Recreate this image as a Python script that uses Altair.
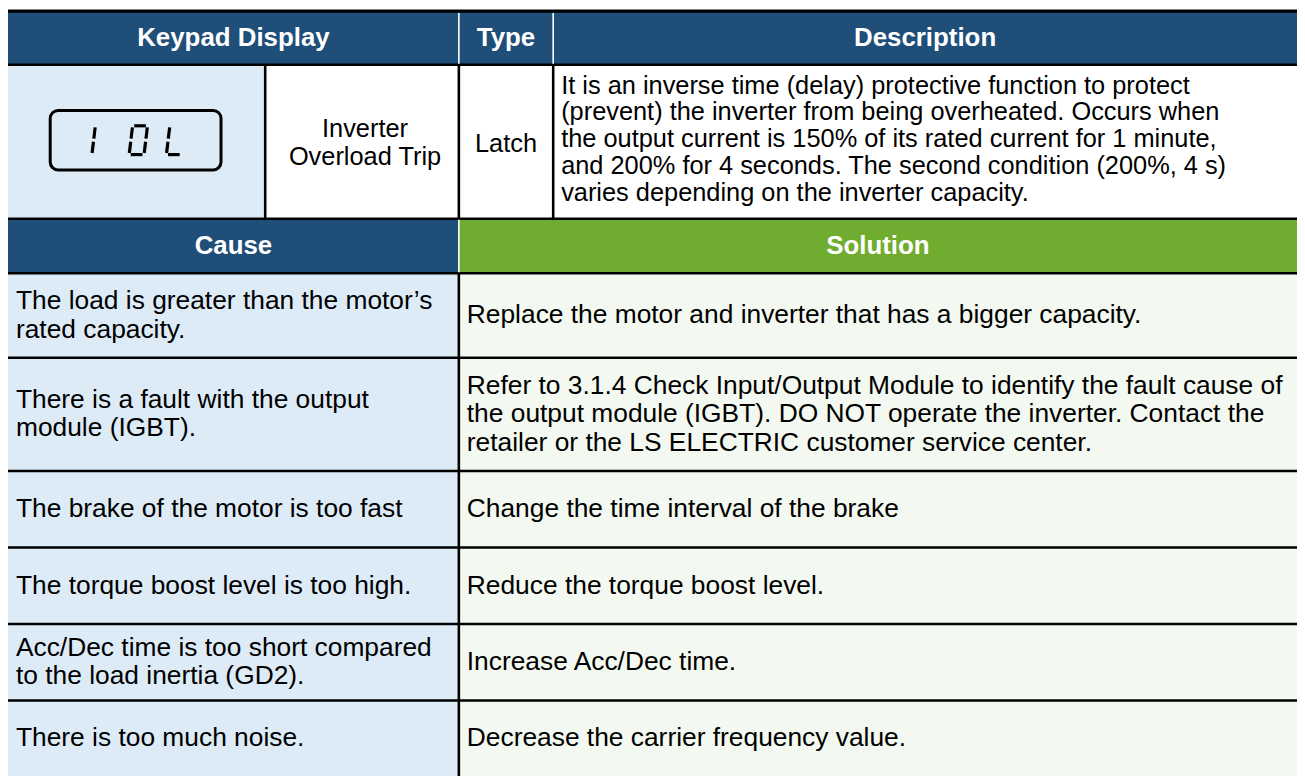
import altair as alt
import pandas as pd

# ---------------- content ----------------
header_top = ["Keypad Display", "Type", "Description"]
header_mid = ["Cause", "Solution"]
keypad_code = ["I", "O", "L"]
trip_name = ["Inverter", "Overload Trip"]
trip_type = ["Latch"]
description = [
    "It is an inverse time (delay) protective function to protect",
    "(prevent) the inverter from being overheated. Occurs when",
    "the output current is 150% of its rated current for 1 minute,",
    "and 200% for 4 seconds. The second condition (200%, 4 s)",
    "varies depending on the inverter capacity.",
]
causes = [
    ["The load is greater than the motor\u2019s", "rated capacity."],
    ["There is a fault with the output", "module (IGBT)."],
    ["The brake of the motor is too fast"],
    ["The torque boost level is too high."],
    ["Acc/Dec time is too short compared", "to the load inertia (GD2)."],
    ["There is too much noise."],
]
solutions = [
    ["Replace the motor and inverter that has a bigger capacity."],
    ["Refer to 3.1.4 Check Input/Output Module to identify the fault cause of",
     "the output module (IGBT). DO NOT operate the inverter. Contact the",
     "retailer or the LS ELECTRIC customer service center."],
    ["Change the time interval of the brake"],
    ["Reduce the torque boost level."],
    ["Increase Acc/Dec time."],
    ["Decrease the carrier frequency value."],
]

# ---------------- layout (table grid, reference pixels) ----------------
X_LEFT, X_RIGHT = 6, 1304
COL_KEY, COL_SPLIT, COL_DESC = 265, 460, 555
Y_TOP, Y_HEAD1, Y_ROW2, Y_HEAD2 = 8, 62, 217, 272
ROW_EDGES = [272, 357, 471, 548, 625, 702, 778]
PAD = 8

DARK_BLUE = "#1F4E79"
GREEN = "#6FAC30"
LIGHT_BLUE = "#DDEBF7"
LIGHT_GREEN = "#F3F8F0"
FONT = "Liberation Sans"

# ---------------- cell fills ----------------
rects = [
    (X_LEFT, X_RIGHT, Y_TOP, Y_HEAD1, DARK_BLUE),
    (X_LEFT, COL_KEY, Y_HEAD1, Y_ROW2, LIGHT_BLUE),
    (COL_KEY, X_RIGHT, Y_HEAD1, Y_ROW2, "#FFFFFF"),
    (X_LEFT, COL_SPLIT, Y_ROW2, Y_HEAD2, DARK_BLUE),
    (COL_SPLIT, X_RIGHT, Y_ROW2, Y_HEAD2, GREEN),
]
for top, bottom in zip(ROW_EDGES[:-1], ROW_EDGES[1:]):
    rects.append((X_LEFT, COL_SPLIT, top, bottom, LIGHT_BLUE))
    rects.append((COL_SPLIT, X_RIGHT, top, bottom, LIGHT_GREEN))
rect_df = pd.DataFrame(rects, columns=["x", "x2", "y", "y2", "fill"])

# ---------------- borders ----------------
rules = [(X_LEFT, X_RIGHT, Y_TOP, Y_TOP, "#000000", 3.2)]
for yy in [Y_HEAD1, Y_ROW2, Y_HEAD2] + ROW_EDGES[1:-1]:
    rules.append((X_LEFT, X_RIGHT, yy, yy, "#000000", 2.6))
for xx in [COL_KEY, COL_SPLIT, COL_DESC]:
    rules.append((xx, xx, Y_HEAD1, Y_ROW2, "#000000", 2.6))
rules.append((COL_SPLIT, COL_SPLIT, Y_HEAD2, ROW_EDGES[-1], "#000000", 2.6))
for xx in [COL_SPLIT, COL_DESC]:
    rules.append((xx, xx, Y_TOP + 2, Y_HEAD1 - 1, "#FFFFFF", 1.6))
rules.append((COL_SPLIT, COL_SPLIT, Y_ROW2 + 1, Y_HEAD2 - 1, "#FFFFFF", 1.6))
rule_df = pd.DataFrame(rules, columns=["x", "x2", "y", "y2", "color", "w"])

# ---------------- keypad display (seven segment) ----------------
box_df = pd.DataFrame({"x": [48.5], "x2": [220.5], "y": [108], "y2": [168]})
SEGMENT_TEMPLATE = {
    "a": (0, 0, 1, 0), "b": (1, 0, 1, 1), "c": (1, 1, 1, 2),
    "d": (0, 2, 1, 2), "e": (0, 1, 0, 2), "f": (0, 0, 0, 1), "g": (0, 1, 1, 1),
}
CHAR_SEGMENTS = {"I": "ef", "O": "abcdef", "L": "def"}
DIGIT_X0, DIGIT_PITCH, DIGIT_W, DIGIT_TOP, DIGIT_H, SLANT, GAP = 90.5, 37.5, 15, 123.5, 29, 0.12, 1.6


def seg_point(left, u, v):
    return (left + u * DIGIT_W + SLANT * (2 - v) * DIGIT_H / 2, DIGIT_TOP + v * DIGIT_H / 2)


segs = []
for i, ch in enumerate(keypad_code):
    left = DIGIT_X0 + i * DIGIT_PITCH
    for s in CHAR_SEGMENTS[ch]:
        u1, v1, u2, v2 = SEGMENT_TEMPLATE[s]
        x1, y1 = seg_point(left, u1, v1)
        x2, y2 = seg_point(left, u2, v2)
        dx, dy = x2 - x1, y2 - y1
        ln = (dx * dx + dy * dy) ** 0.5
        segs.append((x1 + dx * GAP / ln, x2 - dx * GAP / ln, y1 + dy * GAP / ln, y2 - dy * GAP / ln))
seg_df = pd.DataFrame(segs, columns=["x", "x2", "y", "y2"])


# ---------------- text (one row per printed line) ----------------
def block(lines, x, center, line_height):
    n = len(lines)
    return [(t, x, center + (i - (n - 1) / 2) * line_height) for i, t in enumerate(lines)]


head_df = pd.DataFrame({
    "label": header_top + header_mid,
    "x": [(X_LEFT + COL_SPLIT) / 2, (COL_SPLIT + COL_DESC) / 2, (COL_DESC + X_RIGHT) / 2,
          (X_LEFT + COL_SPLIT) / 2, (COL_SPLIT + X_RIGHT) / 2],
    "y": [35.5, 35.5, 35.5, 245, 245],
})
center_rows = block(trip_name, (COL_KEY + COL_SPLIT) / 2 + 3, 141, 28) + \
    block(trip_type, (COL_SPLIT + COL_DESC) / 2, 142, 28)
center_df = pd.DataFrame(center_rows, columns=["label", "x", "y"])

desc_df = pd.DataFrame(block(description, COL_DESC + PAD, 137, 27), columns=["label", "x", "y"])

centers = [(a + b) / 2 for a, b in zip(ROW_EDGES[:-1], ROW_EDGES[1:])]
body_rows = []
for c, s, yc in zip(causes, solutions, centers):
    body_rows += block(c, X_LEFT + PAD, yc, 28.5)
    body_rows += block(s, COL_SPLIT + PAD, yc, 28.5)
body_df = pd.DataFrame(body_rows, columns=["label", "x", "y"])

# ---------------- chart ----------------
xs = alt.Scale(domain=[X_LEFT, X_RIGHT], nice=False, zero=False)
ys = alt.Scale(domain=[7, 778], nice=False, zero=False, reverse=True)
X = alt.X("x:Q", scale=xs, axis=None)
Y = alt.Y("y:Q", scale=ys, axis=None)

fills = alt.Chart(rect_df).mark_rect(strokeWidth=0).encode(
    x=X, x2="x2:Q", y=Y, y2="y2:Q", color=alt.Color("fill:N", scale=None))
borders = alt.Chart(rule_df).mark_rule().encode(
    x=X, x2="x2:Q", y=Y, y2="y2:Q", color=alt.Color("color:N", scale=None),
    strokeWidth=alt.StrokeWidth("w:Q", scale=None))
box = alt.Chart(box_df).mark_rect(cornerRadius=8, stroke="#000000", strokeWidth=3, fill=LIGHT_BLUE).encode(
    x=X, x2="x2:Q", y=Y, y2="y2:Q")
segments = alt.Chart(seg_df).mark_rule(strokeWidth=3.2, color="#000000").encode(
    x=X, x2="x2:Q", y=Y, y2="y2:Q")
heads = alt.Chart(head_df).mark_text(font=FONT, fontSize=26, fontWeight="bold", color="#FFFFFF",
                                     align="center", baseline="middle").encode(x=X, y=Y, text="label:N")
center_text = alt.Chart(center_df).mark_text(font=FONT, fontSize=25.5, color="#000000", align="center",
                                             baseline="middle").encode(x=X, y=Y, text="label:N")
desc_text = alt.Chart(desc_df).mark_text(font=FONT, fontSize=25.5, color="#000000", align="left",
                                         baseline="middle").encode(x=X, y=Y, text="label:N")
body_text = alt.Chart(body_df).mark_text(font=FONT, fontSize=26.5, color="#000000", align="left",
                                         baseline="middle").encode(x=X, y=Y, text="label:N")

chart = alt.layer(fills, borders, box, segments, heads, center_text, desc_text, body_text).properties(
    width=1296, height=770, padding=0, autosize=alt.AutoSizeParams(type="none")
).configure_view(stroke=None)

chart.save("out.html", embed_options={"renderer": "svg", "actions": False})
